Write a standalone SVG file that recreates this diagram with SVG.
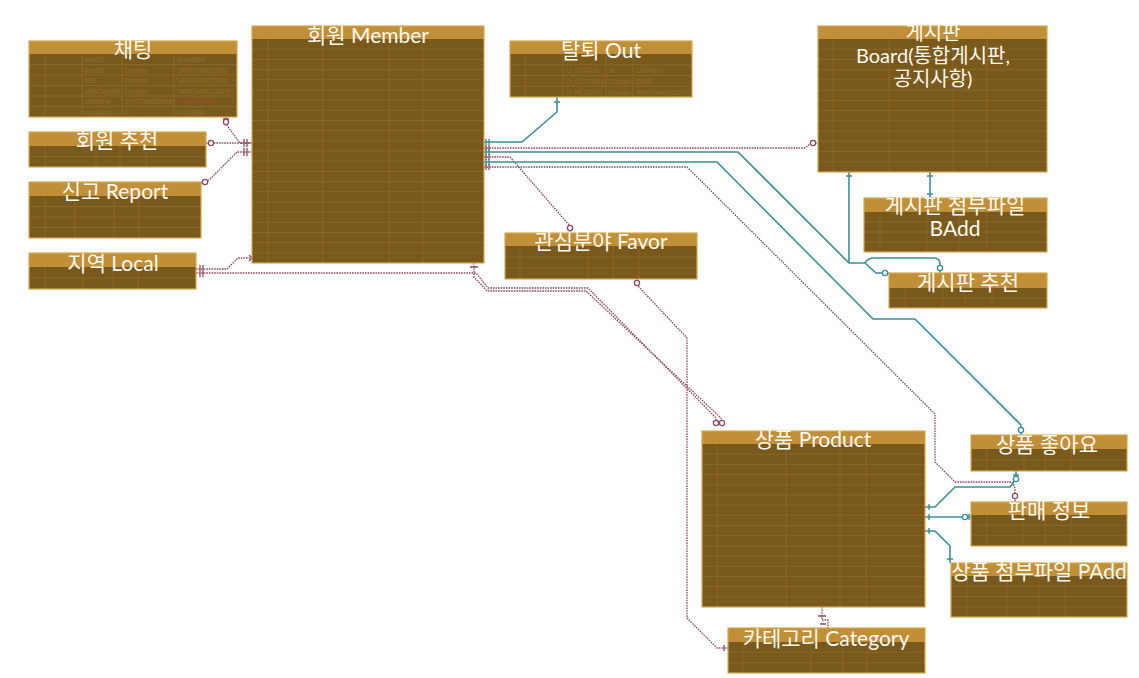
<svg xmlns="http://www.w3.org/2000/svg" width="1139" height="678" viewBox="0 0 1139 678">
  <defs>
    <style>
      .body { fill: #7a591c; }
      .hdr { fill: #c08f38; }
      .grid { fill: none; stroke: #8e6c2d; stroke-width: 0.8; }
      .frame { fill: none; stroke: #d4a94f; stroke-width: 1.2; }
      .title { font-family: Lato, "Noto Sans CJK KR", sans-serif; font-size: 21px; fill: #fbf8f0; text-anchor: middle; }
      .title-sm { font-size: 20px; }
      .cell { font-family: "Liberation Sans", sans-serif; font-size: 6.5px; fill: #8f6f31; }
      .rel { fill: none; stroke: #8c4a60; stroke-width: 1.3; stroke-dasharray: 1.6 1; }
      .rel2 { fill: none; stroke: #3c8e9b; stroke-width: 1.6; }
      .mk { fill: none; stroke: #8c4a60; stroke-width: 1.3; }
      .mk2 { fill: none; stroke: #3c8e9b; stroke-width: 1.4; }
      .dot { fill: #ffffff; stroke: #8c4a60; stroke-width: 1.3; }
      .dot2 { fill: #ffffff; stroke: #3c8e9b; stroke-width: 1.4; }
    </style>
  </defs>

  <rect width="1139" height="678" fill="#ffffff"/>

  <!-- relationship lines -->
  <g id="connectors">
    <!-- dotted (non-identifying) -->
    <path class="rel" d="M226,117 V124 L240,143 H252"/>
    <path class="rel" d="M206,143 H252"/>
    <path class="rel" d="M201,183 H206 L237,152 H252"/>
    <path class="rel" d="M196,269 H227 L238,258 H252"/>
    <path class="rel" d="M196,273 H476 L488,288 H588 L716,418 V425"/>
    <path class="rel" d="M474,263 V277 L487,291 H586 L721,418 V425"/>
    <path class="rel" d="M484,148 H805 L811,143 H818"/>
    <path class="rel" d="M484,157 H510 L570,226 V233"/>
    <path class="rel" d="M484,167 H687 L935,414 V462 L955,482 H1012 L1015,488 V502"/>
    <path class="rel" d="M637,279 V285 L687,338 V618 L717,648 H728"/>
    <path class="rel" d="M822,607 V620 H828 V628"/>

    <!-- solid (identifying) -->
    <path class="rel2" d="M484,142 H522 L557,112 V97"/>
    <path class="rel2" d="M484,152 H738 L849,263 H865 L876,273 H889"/>
    <path class="rel2" d="M849,172 V263"/>
    <path class="rel2" d="M865,263 Q868,258 874,258 H934 Q940,258 940,264 V273"/>
    <path class="rel2" d="M930,172 V198"/>
    <path class="rel2" d="M484,162 H717 L873,319 H915 L1021,425 V435"/>
    <path class="rel2" d="M925,507 H935 L955,487 H1010 L1016,479 V471"/>
    <path class="rel2" d="M925,517 H971"/>
    <path class="rel2" d="M925,531 H935 L950,546 V563"/>

    <!-- end marks -->
    <path class="mk" d="M244,139 V147 M247,139 V147 M244,148 V156 M247,148 V156 M249,255 L252,258 L249,261 M200,265 V277 M203,265 V277 M470,267 H478 M486,145 V151 M489,145 V151 M486,154 V160 M489,154 V160 M486,164 V170 M489,164 V170 M818,616 H826 M820,624 H826 M724,645 V651 M223,119 H229"/>
    <circle class="dot" cx="226" cy="122" r="2.6"/>
    <circle class="dot" cx="211" cy="143" r="2.6"/>
    <circle class="dot" cx="205" cy="182" r="2.6"/>
    <circle class="dot" cx="813" cy="143" r="2.6"/>
    <circle class="dot" cx="570" cy="228" r="2.6"/>
    <circle class="dot" cx="637" cy="283" r="2.6"/>
    <circle class="dot" cx="716" cy="423" r="2.6"/>
    <circle class="dot" cx="722" cy="423" r="2.6"/>
    <circle class="dot" cx="1015" cy="496" r="2.6"/>
    <path class="mk2" d="M486,139 V145 M489,139 V145 M486,149 V155 M489,149 V155 M486,159 V165 M489,159 V165 M554,102 H560 M846,176 H852 M927,176 H933 M927,194 H933 M929,504 V510 M929,514 V520 M929,528 V534 M947,559 H953 M969,514 V520 M1013,475 H1019"/>
    <circle class="dot2" cx="885" cy="273" r="2.6"/>
    <circle class="dot2" cx="940" cy="268" r="2.6"/>
    <circle class="dot2" cx="1021" cy="430" r="2.6"/>
    <circle class="dot2" cx="1016" cy="479" r="2.6"/>
    <circle class="dot2" cx="965" cy="517" r="2.6"/>
  </g>

  <!-- 채팅 -->
  <g id="t-chat">
    <rect class="body" x="29" y="41" width="208" height="76"/>
    <rect class="hdr" x="29" y="41" width="208" height="13"/>
    <path class="grid" d="M29,64.5 H237 M29,75 H237 M29,85.5 H237 M29,96 H237 M29,106.5 H237 M45,54 V117 M82,54 V117 M122,54 V117 M174,54 V117"/>
    <g class="cell">
      <text x="85" y="62">chatID</text><text x="177" y="62">NUMBER</text>
      <text x="85" y="72.5">fromID</text><text x="125" y="72.5">Domain</text><text x="177" y="72.5">VARCHAR2(500)</text>
      <text x="85" y="83">toID</text><text x="125" y="83">Domain</text><text x="177" y="83">VARCHAR2(500)</text>
      <text x="85" y="93.5">chatContent</text><text x="125" y="93.5">Domain</text><text x="177" y="93.5">VARCHAR2(4000)</text>
      <text x="85" y="104">chatTime</text><text x="125" y="104">SYSTIMESTAMP</text><text x="177" y="104" fill="#9a4a2c">TIMESTAMP</text>
      <text x="85" y="114.5">chatRead</text><text x="125" y="114.5">0</text><text x="177" y="114.5">NUMBER</text>
    </g>
    <rect class="frame" x="29" y="41" width="208" height="76"/>
    <text class="title" x="133" y="57">채팅</text>
  </g>

  <!-- 회원 Member -->
  <g id="t-member">
    <rect class="body" x="252" y="26" width="232" height="237"/>
    <rect class="hdr" x="252" y="26" width="232" height="13"/>
    <path class="grid" d="M252,49.2 H484 M252,59.4 H484 M252,69.5 H484 M252,79.7 H484 M252,89.9 H484 M252,100.1 H484 M252,110.3 H484 M252,120.5 H484 M252,130.6 H484 M252,140.8 H484 M252,151 H484 M252,161.2 H484 M252,171.4 H484 M252,181.5 H484 M252,191.7 H484 M252,201.9 H484 M252,212.1 H484 M252,222.3 H484 M252,232.5 H484 M252,242.6 H484 M252,252.8 H484 M268,39 V263 M323,39 V263 M389,39 V263 M423,39 V263"/>
    <rect class="frame" x="252" y="26" width="232" height="237"/>
    <text class="title" x="368" y="43">회원 Member</text>
  </g>

  <!-- 탈퇴 Out -->
  <g id="t-out">
    <rect class="body" x="510" y="41" width="182" height="56"/>
    <rect class="hdr" x="510" y="41" width="182" height="13"/>
    <path class="grid" d="M510,64.75 H692 M510,75.5 H692 M510,86.25 H692 M525,54 V97 M563,54 V97 M606,54 V97 M633,54 V97"/>
    <g class="cell">
      <text x="566" y="73">O_STATUS</text><text x="609" y="73">'N'</text><text x="636" y="73">CHAR(1)</text>
      <text x="566" y="84">O_OUTDATE</text><text x="609" y="84">Domain</text><text x="636" y="84">DATE</text>
      <text x="566" y="94.5">O_REASON</text><text x="609" y="94.5">Domain</text><text x="636" y="94.5">VARCHAR2(2000)</text>
    </g>
    <rect class="frame" x="510" y="41" width="182" height="56"/>
    <text class="title" x="601" y="58">탈퇴 Out</text>
  </g>

  <!-- 게시판 Board -->
  <g id="t-board">
    <rect class="body" x="818" y="26" width="229" height="146"/>
    <rect class="hdr" x="818" y="26" width="229" height="13"/>
    <path class="grid" d="M818,49.2 H1047 M818,59.5 H1047 M818,69.7 H1047 M818,79.9 H1047 M818,90.2 H1047 M818,100.4 H1047 M818,110.6 H1047 M818,120.8 H1047 M818,131.1 H1047 M818,141.3 H1047 M818,151.5 H1047 M818,161.8 H1047 M833,39 V172 M889,39 V172 M953,39 V172 M987,39 V172"/>
    <rect class="frame" x="818" y="26" width="229" height="146"/>
    <text class="title title-sm" x="933" y="40">게시판</text>
    <text class="title title-sm" x="933" y="63">Board(통합게시판,</text>
    <text class="title title-sm" x="933" y="86">공지사항)</text>
  </g>

  <!-- 게시판 첨부파일 BAdd -->
  <g id="t-badd">
    <rect class="body" x="864" y="198" width="183" height="54"/>
    <rect class="hdr" x="864" y="198" width="183" height="14"/>
    <path class="grid" d="M864,222 H1047 M864,232 H1047 M864,242 H1047 M880,212 V252 M927,212 V252 M959,212 V252 M987,212 V252"/>
    <rect class="frame" x="864" y="198" width="183" height="54"/>
    <text class="title" x="955" y="213">게시판 첨부파일</text>
    <text class="title" x="955" y="236">BAdd</text>
  </g>

  <!-- 게시판 추천 -->
  <g id="t-brec">
    <rect class="body" x="889" y="273" width="158" height="35"/>
    <rect class="hdr" x="889" y="273" width="158" height="15"/>
    <path class="grid" d="M889,298 H1047 M905,288 V308 M943,288 V308 M965,288 V308 M992,288 V308"/>
    <rect class="frame" x="889" y="273" width="158" height="35"/>
    <text class="title" x="968" y="290">게시판 추천</text>
  </g>

  <!-- 회원 추천 -->
  <g id="t-mrec">
    <rect class="body" x="29" y="132" width="177" height="35"/>
    <rect class="hdr" x="29" y="132" width="177" height="14"/>
    <path class="grid" d="M29,156.5 H206 M45,146 V167 M96,146 V167 M120,146 V167 M146,146 V167"/>
    <rect class="frame" x="29" y="132" width="177" height="35"/>
    <text class="title" x="117" y="148">회원 추천</text>
  </g>

  <!-- 신고 Report -->
  <g id="t-report">
    <rect class="body" x="29" y="182" width="172" height="56"/>
    <rect class="hdr" x="29" y="182" width="172" height="14"/>
    <path class="grid" d="M29,206.5 H201 M29,217 H201 M29,227.5 H201 M45,196 V238 M75,196 V238 M114,196 V238 M139,196 V238"/>
    <rect class="frame" x="29" y="182" width="172" height="56"/>
    <text class="title" x="115" y="199">신고 Report</text>
  </g>

  <!-- 지역 Local -->
  <g id="t-local">
    <rect class="body" x="29" y="253" width="167" height="36"/>
    <rect class="hdr" x="29" y="253" width="167" height="14"/>
    <path class="grid" d="M29,278 H196 M45,267 V289 M83,267 V289 M113,267 V289 M138,267 V289"/>
    <rect class="frame" x="29" y="253" width="167" height="36"/>
    <text class="title" x="113" y="271">지역 Local</text>
  </g>

  <!-- 관심분야 Favor -->
  <g id="t-favor">
    <rect class="body" x="505" y="233" width="192" height="46"/>
    <rect class="hdr" x="505" y="233" width="192" height="13"/>
    <path class="grid" d="M505,257 H697 M505,268 H697 M520,246 V279 M588,246 V279 M613,246 V279 M639,246 V279"/>
    <rect class="frame" x="505" y="233" width="192" height="46"/>
    <text class="title" x="601" y="249">관심분야 Favor</text>
  </g>

  <!-- 상품 Product -->
  <g id="t-product">
    <rect class="body" x="702" y="431" width="223" height="176"/>
    <rect class="hdr" x="702" y="431" width="223" height="13"/>
    <path class="grid" d="M702,454.2 H925 M702,464.4 H925 M702,474.6 H925 M702,484.8 H925 M702,494.9 H925 M702,505.1 H925 M702,515.3 H925 M702,525.5 H925 M702,535.7 H925 M702,545.9 H925 M702,556.1 H925 M702,566.3 H925 M702,576.4 H925 M702,586.6 H925 M702,596.8 H925 M717,444 V607 M786,444 V607 M840,444 V607 M866,444 V607"/>
    <rect class="frame" x="702" y="431" width="223" height="176"/>
    <text class="title" x="813" y="447">상품 Product</text>
  </g>

  <!-- 상품 좋아요 -->
  <g id="t-plike">
    <rect class="body" x="971" y="435" width="156" height="36"/>
    <rect class="hdr" x="971" y="435" width="156" height="14"/>
    <path class="grid" d="M971,460 H1127 M987,449 V471 M1024,449 V471 M1045,449 V471 M1071,449 V471"/>
    <rect class="frame" x="971" y="435" width="156" height="36"/>
    <text class="title" x="1047" y="452">상품 좋아요</text>
  </g>

  <!-- 판매 정보 -->
  <g id="t-sale">
    <rect class="body" x="971" y="502" width="156" height="44"/>
    <rect class="hdr" x="971" y="502" width="156" height="13"/>
    <path class="grid" d="M971,525.3 H1127 M971,535.7 H1127 M987,515 V546 M1023,515 V546 M1045,515 V546 M1071,515 V546"/>
    <rect class="frame" x="971" y="502" width="156" height="44"/>
    <text class="title" x="1049" y="518">판매 정보</text>
  </g>

  <!-- 상품 첨부파일 PAdd -->
  <g id="t-padd">
    <rect class="body" x="951" y="563" width="176" height="54"/>
    <rect class="hdr" x="951" y="563" width="176" height="13"/>
    <path class="grid" d="M951,586.25 H1127 M951,596.5 H1127 M951,606.75 H1127 M967,576 V617 M1007,576 V617 M1039,576 V617 M1065,576 V617"/>
    <rect class="frame" x="951" y="563" width="176" height="54"/>
    <text class="title" x="1039" y="579">상품 첨부파일 PAdd</text>
  </g>

  <!-- 카테고리 Category -->
  <g id="t-category">
    <rect class="body" x="728" y="628" width="197" height="45"/>
    <rect class="hdr" x="728" y="628" width="197" height="14"/>
    <path class="grid" d="M728,652.3 H925 M728,662.7 H925 M743,642 V673 M811,642 V673 M843,642 V673 M867,642 V673"/>
    <rect class="frame" x="728" y="628" width="197" height="45"/>
    <text class="title" x="826" y="646">카테고리 Category</text>
  </g>
</svg>
